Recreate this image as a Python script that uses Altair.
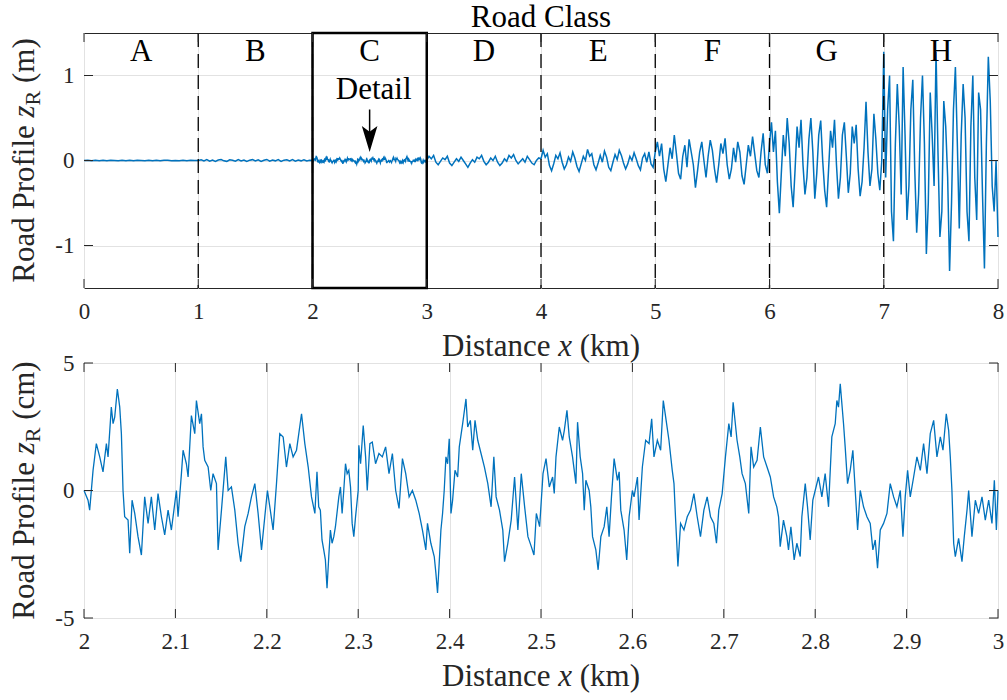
import altair as alt
import numpy as np
import pandas as pd

# ---------------------------------------------------------------- data
# Detailed stretch of the profile (class C): (distance in km, height in cm)
detail_points = [
    (2.0000, 0.00), (2.0044, -0.38), (2.0062, -0.77), (2.0099, 0.79), (2.0135, 1.84),
    (2.0172, 1.32), (2.0208, 0.73), (2.0245, 1.84), (2.0263, 1.32), (2.0299, 3.27),
    (2.0318, 2.62), (2.0336, 2.88), (2.0365, 3.98), (2.0391, 3.27), (2.0409, 2.23),
    (2.0427, 0.00), (2.0445, -1.03), (2.0482, -1.16), (2.0500, -2.46), (2.0526, -0.38),
    (2.0555, -0.90), (2.0591, -1.81), (2.0628, -2.53), (2.0664, -0.25), (2.0701, -1.29),
    (2.0737, -0.25), (2.0774, -1.55), (2.0810, -0.12), (2.0847, -1.03), (2.0883, -1.74),
    (2.0920, -0.77), (2.0956, -1.55), (2.0993, -0.51), (2.1011, 0.00), (2.1029, -1.03),
    (2.1066, 0.66), (2.1084, 1.58), (2.1120, 1.05), (2.1139, 0.53), (2.1175, 2.94),
    (2.1212, 2.23), (2.1230, 3.53), (2.1266, 2.62), (2.1285, 3.01), (2.1303, 1.71),
    (2.1321, 1.18), (2.1358, 0.92), (2.1387, 0.00), (2.1412, 0.66), (2.1449, 0.27),
    (2.1467, -2.33), (2.1504, -0.77), (2.1551, 1.32), (2.1577, 0.00), (2.1613, 0.14),
    (2.1650, -0.77), (2.1686, -2.07), (2.1715, -2.79), (2.1759, -1.42), (2.1796, -0.90),
    (2.1832, -0.25), (2.1869, 0.27), (2.1905, -0.90), (2.1942, -2.33), (2.1978, -1.03),
    (2.2007, 0.00), (2.2033, -0.64), (2.2069, -1.55), (2.2106, 0.27), (2.2142, 2.23),
    (2.2179, 2.10), (2.2215, 0.92), (2.2252, 1.84), (2.2288, 1.32), (2.2325, 1.58),
    (2.2380, 3.01), (2.2416, 1.84), (2.2453, 0.92), (2.2489, -0.25), (2.2526, -0.90),
    (2.2549, 0.73), (2.2568, -0.64), (2.2586, -0.77), (2.2604, -1.94), (2.2623, -2.33),
    (2.2641, -2.72), (2.2659, -3.83), (2.2678, -2.59), (2.2696, -1.55), (2.2714, -2.07),
    (2.2733, -1.81), (2.2751, -1.42), (2.2788, -0.25), (2.2806, 0.14), (2.2824, -0.90),
    (2.2842, 0.00), (2.2861, 1.05), (2.2879, 0.66), (2.2897, 0.79), (2.2916, 0.14),
    (2.2934, -1.29), (2.2952, -1.81), (2.2971, -1.03), (2.3000, 0.00), (2.3007, 1.77),
    (2.3026, 1.05), (2.3055, 2.55), (2.3081, 1.32), (2.3099, 0.00), (2.3128, 1.84),
    (2.3154, 1.90), (2.3190, 1.05), (2.3227, 1.45), (2.3264, 1.32), (2.3300, 1.71),
    (2.3337, 0.66), (2.3374, 1.45), (2.3410, 0.00), (2.3447, -0.70), (2.3484, 1.25),
    (2.3520, 0.66), (2.3557, -0.25), (2.3593, 0.00), (2.3630, -0.38), (2.3667, -0.90),
    (2.3703, -1.55), (2.3740, -2.33), (2.3758, -1.29), (2.3795, -2.07), (2.3832, -2.59),
    (2.3850, -3.24), (2.3868, -4.02), (2.3886, -2.85), (2.3905, -1.55), (2.3923, -0.90),
    (2.3941, 0.00), (2.3960, 1.32), (2.3978, 1.05), (2.3996, 2.03), (2.4015, -0.90),
    (2.4033, -0.38), (2.4059, 0.79), (2.4088, 0.53), (2.4106, 1.71), (2.4143, 2.62),
    (2.4179, 3.59), (2.4198, 2.49), (2.4227, 2.75), (2.4253, 1.58), (2.4278, 2.75),
    (2.4308, 1.97), (2.4344, 1.45), (2.4381, 0.92), (2.4418, 0.27), (2.4454, -0.64),
    (2.4484, 1.32), (2.4509, -0.25), (2.4546, -0.77), (2.4582, -1.55), (2.4601, -2.79),
    (2.4637, -2.07), (2.4674, -1.16), (2.4711, 0.53), (2.4747, -1.55), (2.4784, 0.66),
    (2.4821, -0.64), (2.4857, -1.81), (2.4894, -2.20), (2.4923, -2.53), (2.4949, -0.90),
    (2.4985, -1.42), (2.5022, 0.66), (2.5055, 1.25), (2.5091, 0.14), (2.5127, 0.53),
    (2.5145, -0.12), (2.5164, 1.32), (2.5200, 2.49), (2.5236, 1.97), (2.5255, 2.36),
    (2.5284, 3.14), (2.5309, 2.10), (2.5345, 1.32), (2.5382, 0.27), (2.5400, 2.68),
    (2.5429, 1.32), (2.5455, 0.66), (2.5473, -0.77), (2.5491, 0.40), (2.5527, 0.00),
    (2.5545, -0.64), (2.5564, -1.81), (2.5600, -2.33), (2.5625, -3.11), (2.5655, -1.81),
    (2.5691, -1.42), (2.5720, -0.64), (2.5745, -1.81), (2.5771, -0.25), (2.5800, 1.25),
    (2.5836, 0.40), (2.5855, 0.73), (2.5873, -0.77), (2.5909, -1.55), (2.5938, -2.72),
    (2.5964, -1.03), (2.6000, 0.00), (2.6018, -0.25), (2.6055, 0.53), (2.6073, -1.16),
    (2.6109, 0.92), (2.6145, 1.97), (2.6182, 1.84), (2.6211, 2.81), (2.6236, 1.32),
    (2.6273, 1.97), (2.6309, 1.58), (2.6338, 3.53), (2.6364, 2.88), (2.6400, 1.97),
    (2.6436, 0.79), (2.6455, 0.27), (2.6473, -1.16), (2.6498, -2.98), (2.6527, -1.29),
    (2.6564, -1.55), (2.6600, -1.03), (2.6636, -0.77), (2.6673, -0.12), (2.6709, -1.03),
    (2.6745, -1.81), (2.6782, -0.77), (2.6818, -0.25), (2.6855, -1.03), (2.6891, -1.29),
    (2.6920, -2.07), (2.6945, -0.77), (2.6982, -0.12), (2.7018, 1.32), (2.7055, 2.62),
    (2.7080, 2.10), (2.7102, 3.46), (2.7145, 1.97), (2.7175, 1.32), (2.7200, 0.66),
    (2.7236, 0.27), (2.7273, -0.90), (2.7298, 1.71), (2.7327, 0.92), (2.7364, 1.18),
    (2.7400, 2.49), (2.7436, 1.32), (2.7473, 0.92), (2.7509, 0.53), (2.7545, -0.25),
    (2.7580, -0.64), (2.7599, -1.03), (2.7617, -2.20), (2.7653, -1.16), (2.7690, -1.81),
    (2.7708, -2.33), (2.7734, -1.42), (2.7770, -2.72), (2.7799, -2.07), (2.7836, -2.59),
    (2.7854, -1.03), (2.7891, 0.27), (2.7916, -0.64), (2.7945, -1.94), (2.7974, -0.38),
    (2.8000, 0.00), (2.8036, 0.53), (2.8073, -0.25), (2.8109, 0.66), (2.8146, -0.64),
    (2.8182, 2.10), (2.8219, 2.62), (2.8237, 3.53), (2.8255, 3.27), (2.8274, 4.18),
    (2.8310, 2.62), (2.8328, 1.71), (2.8354, 0.27), (2.8383, 0.79), (2.8412, 1.58),
    (2.8438, 0.00), (2.8464, -1.55), (2.8493, 0.00), (2.8529, -0.64), (2.8566, -1.03),
    (2.8602, -1.29), (2.8631, -2.33), (2.8657, -1.94), (2.8682, -3.05), (2.8712, -1.55),
    (2.8748, -1.29), (2.8785, -0.90), (2.8821, 0.27), (2.8858, -0.25), (2.8894, -0.64),
    (2.8931, 0.00), (2.8960, -1.81), (2.8985, -0.25), (2.9011, 0.79), (2.9040, -0.25),
    (2.9077, 0.53), (2.9113, 1.32), (2.9150, 0.79), (2.9186, 1.84), (2.9223, 0.66),
    (2.9259, 2.23), (2.9296, 2.75), (2.9332, 1.32), (2.9369, 2.10), (2.9398, 1.58),
    (2.9434, 3.01), (2.9460, 2.36), (2.9478, 1.32), (2.9496, 0.00), (2.9515, -2.07),
    (2.9533, -2.59), (2.9569, -1.88), (2.9606, -2.79), (2.9631, -1.81), (2.9661, -0.77),
    (2.9679, 0.00), (2.9715, -1.81), (2.9752, -0.38), (2.9788, -0.90), (2.9825, -0.25),
    (2.9861, -1.16), (2.9898, -0.38), (2.9934, -1.29), (2.9960, 0.40), (2.9982, -1.55),
    (3.0000, 0.00),
]

# Profile samples (m) for the other road classes, evenly spaced over each 1 km stretch
class_a = [0.000, 0.003, -0.002, 0.004, -0.003, 0.002, -0.004, 0.003, 0.001, -0.003,
           0.004, -0.002, 0.003, -0.004, 0.002, 0.000, -0.003, 0.004, -0.002, 0.003,
           -0.003, 0.002, 0.004, -0.003, 0.001, -0.004, 0.003, -0.002, 0.002, 0.000]
class_b = [0.000, 0.008, -0.006, 0.010, -0.008, 0.004, -0.010, 0.006, 0.012, -0.004,
           -0.010, 0.008, 0.002, -0.008, 0.010, -0.006, 0.006, -0.012, 0.004, 0.010,
           -0.006, 0.008, -0.010, 0.002, 0.012, -0.008, 0.006, -0.004, 0.010, -0.010,
           0.004, 0.008, -0.006, 0.010, -0.008, 0.006, -0.004, 0.008, -0.006, 0.002]
class_d = [0.00, 0.05, 0.02, 0.06, -0.02, -0.05, -0.01, 0.03, 0.01, 0.05,
           -0.03, -0.06, -0.02, 0.02, -0.01, 0.04, 0.00, -0.04, -0.08, -0.03,
           0.01, -0.02, 0.04, 0.02, 0.06, -0.01, -0.05, -0.02, 0.03, 0.00,
           0.05, -0.02, -0.06, -0.03, 0.02, -0.01, 0.06, 0.03, 0.07, 0.00,
           -0.04, -0.01, 0.02, -0.02, 0.05, 0.01, -0.03, -0.05, 0.00, 0.03]
class_e = [0.02, 0.12, 0.04, 0.08, -0.06, -0.12, -0.04, 0.06, 0.02, 0.09,
           -0.02, -0.10, -0.05, 0.04, -0.01, 0.10, 0.03, -0.07, -0.13, -0.04,
           0.05, 0.00, 0.13, 0.05, 0.08, -0.05, -0.11, -0.03, 0.06, -0.02,
           0.11, 0.04, -0.08, -0.12, -0.02, 0.07, 0.01, 0.12, 0.06, -0.03,
           -0.10, -0.04, 0.05, 0.00, 0.09, 0.02, -0.06, -0.11, 0.03, 0.08,
           -0.02, 0.10, -0.04, -0.08]
class_f = [0.10, 0.22, 0.05, 0.20, -0.10, -0.25, -0.05, 0.15, 0.02, 0.30,
           0.08, -0.15, -0.22, 0.05, 0.18, -0.08, 0.25, 0.10, -0.05, -0.32,
           -0.12, 0.10, 0.22, 0.00, -0.20, 0.05, 0.24, 0.12, -0.10, -0.26,
           -0.05, 0.20, 0.08, 0.26, -0.05, -0.22, -0.10, 0.15, -0.02, 0.22,
           0.10, -0.18, -0.28, -0.05, 0.18, 0.05, 0.28, 0.08, -0.12, -0.20,
           0.10, 0.32, -0.05, -0.15]
class_g = [0.20, 0.45, 0.10, 0.35, -0.25, -0.62, -0.15, 0.30, 0.05, 0.50,
           0.20, -0.30, -0.55, -0.10, 0.40, 0.15, 0.48, -0.05, -0.40, -0.20,
           0.25, 0.50, 0.10, -0.45, -0.15, 0.30, 0.47, 0.00, -0.35, -0.55,
           -0.10, 0.35, 0.15, 0.48, -0.05, -0.45, -0.20, 0.30, 0.45, 0.05,
           -0.38, -0.15, 0.40, 0.20, 0.42, -0.10, -0.42, -0.25, 0.15, 0.69,
           0.10, -0.30, -0.10, 0.55, 0.25, -0.15, -0.35, 0.00]
class_h = [1.28, -0.20, 0.60, 1.00, -0.60, -0.95, 0.20, 0.90, 0.40, -0.40,
           1.10, 0.30, -0.70, -0.30, 0.60, 0.95, -0.10, -0.85, -0.40, 0.50,
           1.00, 0.20, -1.10, -0.50, 0.80, 0.30, -0.30, 1.28, 0.10, -0.90,
           -0.60, 0.70, 0.40, -0.20, -1.30, -0.50, 0.60, 1.10, 0.20, -0.80,
           0.30, 0.90, 0.50, -0.60, -0.95, 0.40, 1.00, -0.20, -0.70, 0.80,
           0.60, -0.40, -1.27, 0.20, 1.22, 0.70, -0.30, -0.60, 0.00, -0.90]

class_labels = ["A", "B", "C", "D", "E", "F", "G", "H"]
class_bounds = [1, 2, 3, 4, 5, 6, 7]
top_x_ticks = [0, 1, 2, 3, 4, 5, 6, 7, 8]
top_y_ticks = [-1, 0, 1]
bottom_x_ticks = [2, 2.1, 2.2, 2.3, 2.4, 2.5, 2.6, 2.7, 2.8, 2.9, 3]
bottom_y_ticks = [-5, 0, 5]

# ---------------------------------------------------------------- style
FONT = "Liberation Serif"
BLUE = "#0072BD"
INK = "#262626"
GRID = "#e2e2e2"
W, H = 914, 255
TITLE_SIZE = 31
SUB_SIZE = 22
TICK_FONT = 23
TICK_LEN = 9
# rough advance widths (em) of the serif face, used to set mixed-style titles
ADV = {"Road Profile": 5.083, "z": 0.389, "R": 0.667, "(m)": 1.444, "(cm)": 1.888,
       "Distance": 3.499, "x": 0.444, "(km)": 1.944, " ": 0.25}

# ---------------------------------------------------------------- frames
detail_km = [p[0] for p in detail_points]
detail_cm = [p[1] for p in detail_points]
detail_df = pd.DataFrame({"km": detail_km, "z": detail_cm})

top_km, top_m = [], []
for start, vals in [(0, class_a), (1, class_b), (3, class_d), (4, class_e),
                    (5, class_f), (6, class_g)]:
    top_km += list(start + np.arange(len(vals)) / len(vals))
    top_m += vals
top_km += list(np.linspace(7, 8, len(class_h)))
top_m += class_h
top_km += detail_km
top_m += [v / 100 for v in detail_cm]
top_df = pd.DataFrame({"km": top_km, "z": top_m}).sort_values("km")

label_expr = "datum.value < 0 ? '-' + abs(datum.value) : '' + datum.value"


def one(text):
    return pd.DataFrame({"t": [text]})


class Panel:
    """Shared x/y encodings so every layer carries the same scale and axis."""

    def __init__(self, xdom, ydom, xticks, yticks):
        self.xs = alt.Scale(domain=xdom, nice=False, zero=False)
        self.ys = alt.Scale(domain=ydom, nice=False, zero=False)
        self.xa = alt.Axis(values=xticks, grid=True, ticks=False, domain=False,
                           labelExpr=label_expr, labelPadding=12, labelFlush=False,
                           title=None)
        self.ya = alt.Axis(values=yticks, grid=True, ticks=False, domain=False,
                           labelExpr=label_expr, labelPadding=10, title=None)
        self.xticks, self.yticks = xticks, yticks

    def X(self, field):
        return alt.X(field, type="quantitative", scale=self.xs, axis=self.xa, title=None)

    def Y(self, field):
        return alt.Y(field, type="quantitative", scale=self.ys, axis=self.ya, title=None)

    def inward_ticks(self):
        """MATLAB-style ticks pointing into the plot box on all four sides."""
        xd = pd.DataFrame({"v": self.xticks})
        yd = pd.DataFrame({"v": self.yticks})
        rule = dict(color=INK, strokeWidth=1)
        return [
            alt.Chart(xd).mark_rule(**rule).encode(x=self.X("v"), y=alt.value(H), y2=alt.value(H - TICK_LEN)),
            alt.Chart(xd).mark_rule(**rule).encode(x=self.X("v"), y=alt.value(0), y2=alt.value(TICK_LEN)),
            alt.Chart(yd).mark_rule(**rule).encode(y=self.Y("v"), x=alt.value(0), x2=alt.value(TICK_LEN)),
            alt.Chart(yd).mark_rule(**rule).encode(y=self.Y("v"), x=alt.value(W - TICK_LEN), x2=alt.value(W)),
        ]


def y_title(unit):
    """'Road Profile z_R (unit)' set vertically with italic z and subscript R."""
    parts = [("Road Profile", "normal", TITLE_SIZE, 0, True),
             ("z", "italic", TITLE_SIZE, 0, False),
             ("R", "normal", SUB_SIZE, 6, True),
             (unit, "normal", TITLE_SIZE, 0, False)]
    gap = ADV[" "] * TITLE_SIZE
    steps = [(ADV[t] * s, gap if g else 0) for t, _, s, _, g in parts]
    pos = H / 2 + sum(a + b for a, b in steps) / 2
    layers = []
    for (text, style, size, shift, _), (w, g) in zip(parts, steps):
        layers.append(
            alt.Chart(one(text)).mark_text(
                font=FONT, fontSize=size, fontStyle=style, angle=270, align="left",
                baseline="alphabetic", color=INK,
            ).encode(text="t:N", x=alt.value(-50 + shift), y=alt.value(pos))
        )
        pos -= w + g
    return layers


def x_title():
    """'Distance x (km)' with an italic x, centred under the plot."""
    parts = [("Distance", "normal"), ("x", "italic"), ("(km)", "normal")]
    gap = ADV[" "] * TITLE_SIZE
    widths = [ADV[t] * TITLE_SIZE for t, _ in parts]
    pos = W / 2 - (sum(widths) + 2 * gap) / 2
    layers = []
    for (text, style), w in zip(parts, widths):
        layers.append(
            alt.Chart(one(text)).mark_text(
                font=FONT, fontSize=TITLE_SIZE, fontStyle=style, align="left",
                baseline="alphabetic", color=INK,
            ).encode(text="t:N", x=alt.value(pos), y=alt.value(H + 68))
        )
        pos += w + gap
    return layers


# ---------------------------------------------------------------- upper panel
up = Panel([0, 8], [-1.5, 1.5], top_x_ticks, top_y_ticks)

top_line = alt.Chart(top_df).mark_line(color=BLUE, strokeWidth=1.5).encode(
    x=up.X("km"), y=up.Y("z"), order="km:Q",
)

bounds = alt.Chart(pd.DataFrame({"b": class_bounds})).mark_rule(
    color="black", strokeWidth=1.3, strokeDash=[14, 7]
).encode(x=up.X("b"))

detail_box = alt.Chart(pd.DataFrame({"x0": [2], "x1": [3], "y0": [-1.5], "y1": [1.5]})).mark_rect(
    fillOpacity=0, stroke="black", strokeWidth=2.5
).encode(x=up.X("x0"), x2="x1:Q", y=up.Y("y0"), y2="y1:Q")

label_df = pd.DataFrame({"c": [i + 0.5 for i in range(len(class_labels))], "t": class_labels})
class_text = alt.Chart(label_df).mark_text(
    font=FONT, fontSize=TITLE_SIZE, baseline="alphabetic", color="black"
).encode(x=up.X("c"), y=alt.value(28), text="t:N")

road_class = alt.Chart(one("Road Class")).mark_text(
    font=FONT, fontSize=TITLE_SIZE, baseline="alphabetic", color="black"
).encode(text="t:N", x=alt.value(W / 2), y=alt.value(-6))

# "Detail" note with a downward arrow onto the class C stretch
arrow_x, arrow_top, arrow_tip, head_px = 2.5, 0.60, 0.10, 26
head_centre = arrow_tip + (head_px / 2) * 3.0 / H
note = pd.DataFrame({"x": [arrow_x], "yt": [0.726], "y0": [arrow_top],
                     "y1": [head_centre], "yh": [head_centre], "t": ["Detail"]})
detail_note = alt.Chart(note).mark_text(
    font=FONT, fontSize=TITLE_SIZE, baseline="alphabetic", color="black", dx=4
).encode(x=up.X("x"), y=up.Y("yt"), text="t:N")
shaft = alt.Chart(note).mark_rule(color="black", strokeWidth=1.5).encode(
    x=up.X("x"), y=up.Y("y0"), y2="y1:Q")
head = alt.Chart(note).mark_point(
    shape="M0,1 L-0.6,-1 L0,-0.55 L0.6,-1 Z", size=head_px ** 2,
    filled=True, color="black", opacity=1, strokeWidth=0
).encode(x=up.X("x"), y=up.Y("yh"))

top = alt.layer(
    top_line, bounds, detail_box, class_text, road_class, detail_note, shaft, head,
    *up.inward_ticks(), *y_title("(m)"), *x_title(),
).properties(width=W, height=H)

# ---------------------------------------------------------------- lower panel
low = Panel([2, 3], [-5, 5], bottom_x_ticks, bottom_y_ticks)

bot_line = alt.Chart(detail_df).mark_line(color=BLUE, strokeWidth=1.3).encode(
    x=low.X("km"), y=low.Y("z"), order="km:Q",
)

bottom = alt.layer(
    bot_line, *low.inward_ticks(), *y_title("(cm)"), *x_title(),
).properties(width=W, height=H)

chart = alt.vconcat(top, bottom, spacing=-12).properties(
    padding={"left": 8, "top": 1, "right": 0, "bottom": 0}
).configure_view(
    stroke=INK, strokeWidth=1
).configure_axis(
    gridColor=GRID, gridWidth=1, gridOpacity=1,
    labelFont=FONT, labelFontSize=TICK_FONT, labelColor=INK,
)

chart.save("out.html", embed_options={"renderer": "svg", "actions": False})
